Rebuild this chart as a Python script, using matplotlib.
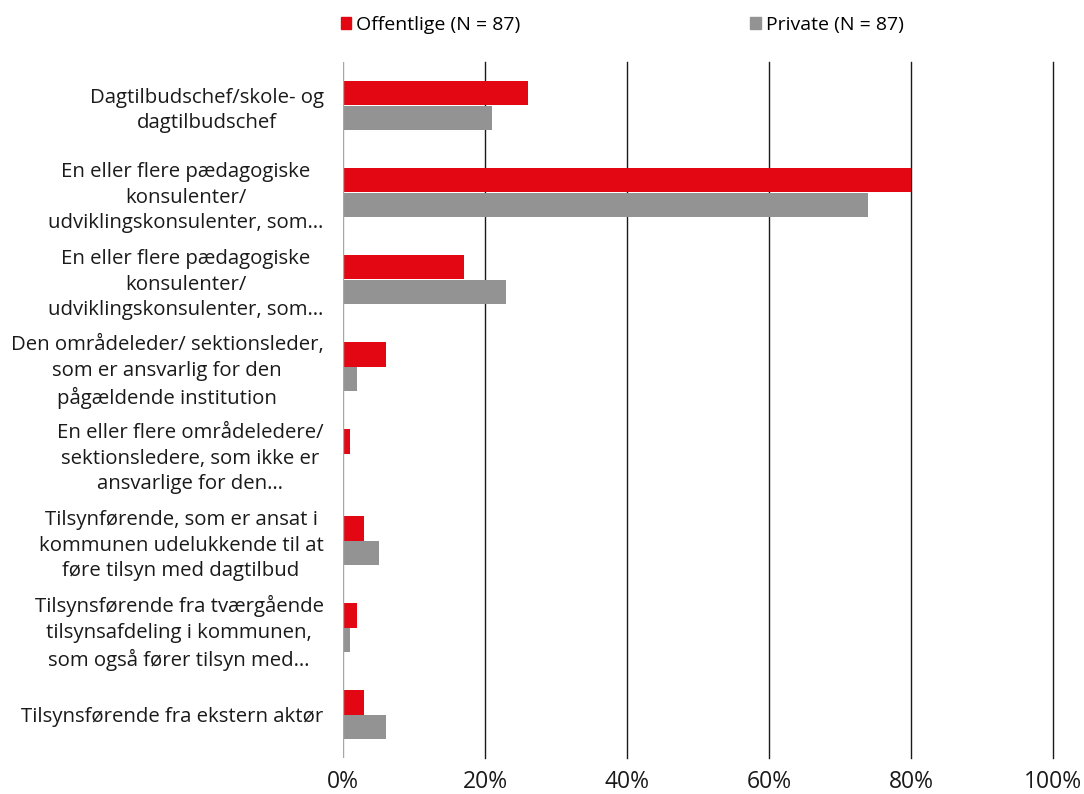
import matplotlib
matplotlib.use("Agg")
import matplotlib.pyplot as plt
from matplotlib.patches import Patch
import numpy as np

plt.rcParams['font.family'] = ['Open Sans', 'DejaVu Sans']

categories = [
    "Dagtilbudschef/skole- og\ndagtilbudschef",
    "En eller flere pædagogiske\nkonsulenter/\nudviklingskonsulenter, som…",
    "En eller flere pædagogiske\nkonsulenter/\nudviklingskonsulenter, som…",
    "Den områdeleder/ sektionsleder,\nsom er ansvarlig for den\npågældende institution",
    "En eller flere områdeledere/\nsektionsledere, som ikke er\nansvarlige for den…",
    "Tilsynførende, som er ansat i\nkommunen udelukkende til at\nføre tilsyn med dagtilbud",
    "Tilsynsførende fra tværgående\ntilsynsafdeling i kommunen,\nsom også fører tilsyn med…",
    "Tilsynsførende fra ekstern aktør",
]
offentlige = [26, 80, 17, 6, 1, 3, 2, 3]
private = [21, 74, 23, 2, 0, 5, 1, 6]
series_names = ["Offentlige (N = 87)", "Private (N = 87)"]
xticks = [0, 20, 40, 60, 80, 100]
xticklabels = ["0%", "20%", "40%", "60%", "80%", "100%"]

red = "#E30613"
grey = "#939393"

fig = plt.figure(figsize=(10.84, 7.94), dpi=100)
ax = fig.add_axes([343/1084, 36/794, 710/1084, 696/794])

n = len(categories)
y = np.arange(n)
h = 0.287
ax.barh(y - h/2, offentlige, height=h, color=red, zorder=3)
ax.barh(y + h/2, private, height=h, color=grey, zorder=3)

ax.set_ylim(n - 0.5, -0.5)
ax.set_xlim(0, 100)
ax.set_xticks(xticks)
ax.set_xticklabels(xticklabels, fontsize=16.5)
ax.set_yticks(y)
ax.set_yticklabels(categories, fontsize=14.7, multialignment='center', linespacing=1.36)
ax.tick_params(axis='both', length=0, colors='#1a1a1a')
ax.tick_params(axis='y', pad=14)
ax.tick_params(axis='x', pad=9)
for s in ['top', 'right', 'bottom', 'left']:
    ax.spines[s].set_visible(False)
for xv in xticks[1:]:
    ax.axvline(xv, color='#1a1a1a', linewidth=1.0, zorder=1, clip_on=False)
ax.axvline(0, color='#a6a6a6', linewidth=1.0, zorder=4)

handles = [Patch(color=red), Patch(color=grey)]
fig.legend(handles, series_names, loc='upper left', bbox_to_anchor=(333/1084, 1 - 8/794),
           ncol=2, frameon=False, fontsize=14, handlelength=0.55, handleheight=0.55,
           handletextpad=0.25, columnspacing=11.8, borderaxespad=0)

fig.savefig("out.png", dpi=100)
